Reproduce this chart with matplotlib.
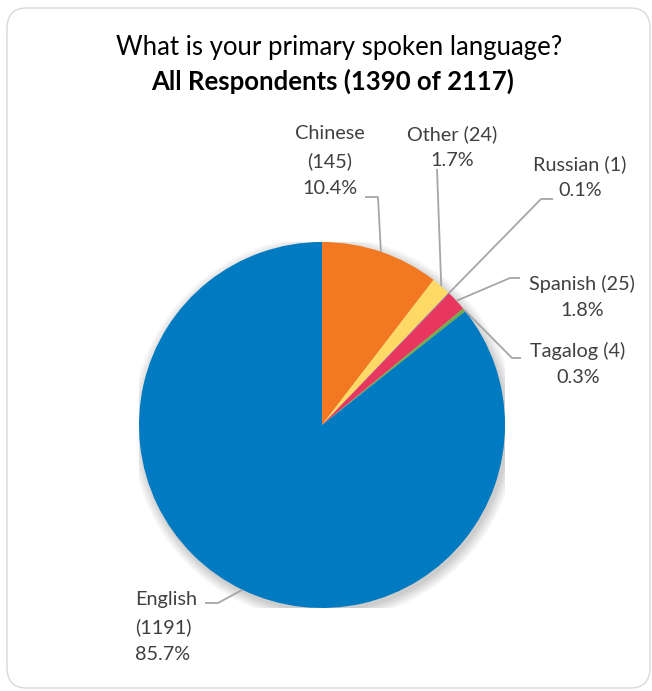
import numpy as np
import matplotlib
matplotlib.use("Agg")
import matplotlib.pyplot as plt
from matplotlib.patches import FancyBboxPatch, Circle

plt.rcParams['font.family'] = ['Lato', 'DejaVu Sans']

# Survey responses
languages = ["Chinese", "Other", "Russian", "Spanish", "Tagalog", "English"]
counts = [145, 24, 1, 25, 4, 1191]
colors = ["#F27821", "#FFD966", "#7F6AA8", "#E8375E", "#70AD47", "#007AC1"]
title_line1 = "What is your primary spoken language?"
title_line2 = "All Respondents (1390 of 2117)"

W, H = 652, 691
CX, CY, R = 322, 425, 183  # pie centre and radius in pixels (from top-left)

fig = plt.figure(figsize=(W / 100, H / 100), dpi=100)
fig.patch.set_facecolor("white")

# rounded chart frame
frame = FancyBboxPatch((7 / W, 3 / H), (W - 9) / W, (H - 11) / H,
                       boxstyle="round,pad=0,rounding_size=0.03",
                       transform=fig.transFigure, facecolor="none",
                       edgecolor="#D9D9D9", linewidth=1.0, zorder=-1)
fig.patches.append(frame)

ax = fig.add_axes([(CX - R) / W, (H - CY - R) / H, 2 * R / W, 2 * R / H])
ax.set_zorder(2)

# soft drop shadow under the pie
for k in range(10):
    ax.add_patch(Circle((0.012, -0.02), 1.0 + 0.006 * k, facecolor="black",
                        alpha=0.018, edgecolor="none", zorder=0))

wedges, _ = ax.pie(counts, colors=colors, startangle=90, counterclock=False,
                   radius=1.0, wedgeprops=dict(linewidth=0))
for w in wedges:
    w.set_zorder(2)

ax.set_xlim(-1, 1)
ax.set_ylim(-1, 1)
ax.set_aspect("equal")
ax.axis("off")


def px(x, y):
    """pixel (from top-left) -> pie data coordinates"""
    return (x - CX) / R, (CY - y) / R


total = sum(counts)
label_color = "#404040"
line_color = "#A6A6A6"
fs = 14.3

# label text anchor (pixel), alignment, and leader elbow points (pixel)
layout = {
    "Chinese": dict(text=(330, 161), ha="center", elbow=[(365, 197), (378, 197)]),
    "Other": dict(text=(452, 147), ha="center", elbow=[(437, 169)]),
    "Russian": dict(text=(580, 177), ha="center", elbow=[(553, 199), (541, 199)]),
    "Spanish": dict(text=(582, 297), ha="center", elbow=[(520, 278), (510, 278)]),
    "Tagalog": dict(text=(578, 364), ha="center", elbow=[(521, 358), (512, 358)]),
    "English": dict(text=(135, 627), ha="left", elbow=[(205, 603), (218, 603)]),
}

for w, lang, n in zip(wedges, languages, counts):
    pct = 100 * n / total
    spec = layout[lang]
    if lang in ("Chinese", "English"):
        txt = f"{lang}\n({n})\n{pct:.1f}%"
    else:
        txt = f"{lang} ({n})\n{pct:.1f}%"
    tx, ty = px(*spec["text"])
    ax.text(tx, ty, txt, ha=spec["ha"], va="center", fontsize=fs,
            color=label_color, linespacing=1.68, zorder=5, clip_on=False)
    mid = np.deg2rad((w.theta1 + w.theta2) / 2)
    pts = [px(*p) for p in spec["elbow"]] + [(np.cos(mid), np.sin(mid))]
    xs, ys = zip(*pts)
    ax.plot(xs, ys, color=line_color, lw=1.3, zorder=4, clip_on=False,
            solid_capstyle="butt")

fig.text(339 / W, 1 - 47 / H, title_line1, ha="center", va="center",
         fontsize=18.5, color="black")
fig.text(333 / W, 1 - 81 / H, title_line2, ha="center", va="center",
         fontsize=18.5, color="black", fontweight="bold")

fig.savefig("out.png", dpi=100)
